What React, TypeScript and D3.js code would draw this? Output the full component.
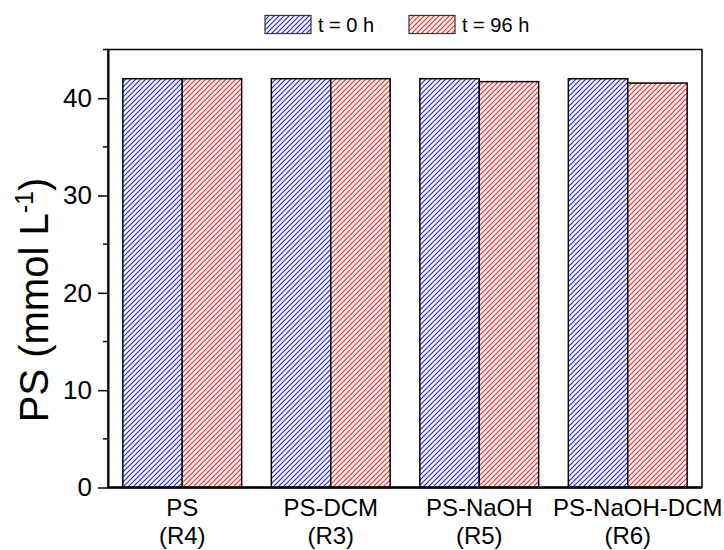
import * as d3 from "d3";
import { useRef, useEffect } from "react";

const categories = ["PS|(R4)", "PS-DCM|(R3)", "PS-NaOH|(R5)", "PS-NaOH-DCM|(R6)"];
const series = ["t = 0 h", "t = 96 h"];
const valuesT0 = [42.0, 42.0, 42.0, 42.0];
const valuesT96 = [42.0, 42.0, 41.7, 41.55];
const majorTicks = [0, 10, 20, 30, 40];
const minorTicks = [5, 15, 25, 35, 45];

const colors = ["#2020ff", "#ff2020"];
const font = "'Liberation Sans', Arial, sans-serif";

const App = () => {
    const ref = useRef(null);

    const width = 724;
    const height = 550;
    const margin = { top: 49.5, bottom: 62.5, left: 108, right: 22 };

    useEffect(() => {
        const svg = d3.select(ref.current);
        svg.selectAll("*").remove();

        const x = d3.scaleBand()
            .domain(categories)
            .range([margin.left, width - margin.right])
            .paddingInner(0.2)
            .paddingOuter(0.1);
        const x1 = d3.scaleBand()
            .domain(series)
            .range([0, x.bandwidth()]);
        const y = d3.scaleLinear()
            .domain([0, 45])
            .range([height - margin.bottom, margin.top]);

        // hatch patterns
        const defs = svg.append("defs");
        colors.forEach((c, i) => {
            const p = defs.append("pattern")
                .attr("id", "hatch" + i)
                .attr("patternUnits", "userSpaceOnUse")
                .attr("width", 5)
                .attr("height", 5);
            p.append("rect").attr("width", 5).attr("height", 5).attr("fill", "white");
            p.append("path")
                .attr("d", "M-1,1 l2,-2 M0,5 l5,-5 M4,6 l2,-2")
                .attr("stroke", c)
                .attr("stroke-width", 1.2);
        });

        const data = [valuesT0, valuesT96];

        // bars
        data.forEach((vals, si) => {
            svg.append("g")
                .selectAll("rect")
                .data(vals)
                .enter()
                .append("rect")
                .attr("x", (d, i) => x(categories[i]) + x1(series[si]))
                .attr("y", d => y(d))
                .attr("width", x1.bandwidth())
                .attr("height", d => y(0) - y(d))
                .attr("fill", `url(#hatch${si})`)
                .attr("stroke", "black")
                .attr("stroke-width", 1.5);
        });

        // frame
        svg.append("rect")
            .attr("x", margin.left)
            .attr("y", margin.top)
            .attr("width", width - margin.left - margin.right)
            .attr("height", y(0) - margin.top)
            .attr("fill", "none")
            .attr("stroke", "black")
            .attr("stroke-width", 1.5);

        // y axis
        const yAxis = svg.append("g")
            .attr("transform", `translate(${margin.left},0)`)
            .call(d3.axisLeft(y).tickValues(majorTicks).tickSize(10).tickSizeOuter(0).tickPadding(6));
        yAxis.select(".domain").attr("stroke-width", 2);
        yAxis.selectAll(".tick line").attr("stroke-width", 1.5);
        yAxis.selectAll("text")
            .style("font-family", font)
            .style("font-size", "26px")
            .attr("fill", "black");
        svg.append("g")
            .selectAll("line")
            .data(minorTicks)
            .enter()
            .append("line")
            .attr("x1", margin.left - 5)
            .attr("x2", margin.left)
            .attr("y1", d => y(d))
            .attr("y2", d => y(d))
            .attr("stroke", "black")
            .attr("stroke-width", 1.5);

        // x axis line
        svg.append("line")
            .attr("x1", margin.left)
            .attr("x2", width - margin.right)
            .attr("y1", y(0))
            .attr("y2", y(0))
            .attr("stroke", "black")
            .attr("stroke-width", 2.5);

        // x labels (last one nudged right like the original)
        const xl = svg.append("g")
            .selectAll("text")
            .data(categories)
            .enter()
            .append("text")
            .attr("text-anchor", "middle")
            .style("font-family", font)
            .style("font-size", "24px");
        xl.append("tspan")
            .attr("x", (d, i) => x(d) + x.bandwidth() / 2 + (i === categories.length - 1 ? 10 : 0))
            .attr("y", 516)
            .text(d => d.split("|")[0]);
        xl.append("tspan")
            .attr("x", d => x(d) + x.bandwidth() / 2)
            .attr("y", 544)
            .text(d => d.split("|")[1]);

        // y label
        const yl = svg.append("text")
            .attr("transform", `translate(48,300) rotate(-90)`)
            .attr("text-anchor", "middle")
            .style("font-family", font)
            .style("font-size", "40px");
        yl.append("tspan").text("PS (mmol L");
        yl.append("tspan").attr("dy", -15).style("font-size", "25px").text("-1");
        yl.append("tspan").attr("dy", 15).text(")");

        // legend
        const lx = [265, 409];
        series.forEach((s, i) => {
            svg.append("rect")
                .attr("x", lx[i])
                .attr("y", 15.5)
                .attr("width", 46)
                .attr("height", 18)
                .attr("fill", `url(#hatch${i})`)
                .attr("stroke", "#333")
                .attr("stroke-width", 1.2);
            svg.append("text")
                .attr("x", lx[i] + 53)
                .attr("y", 31.5)
                .style("font-family", font)
                .style("font-size", "20px")
                .text(s);
        });
    }, []);

    return (
        <svg ref={ref} width={width} height={height}
            style={{ position: "absolute", left: 0, top: 0, background: "white" }}></svg>
    );
};

export default App;
